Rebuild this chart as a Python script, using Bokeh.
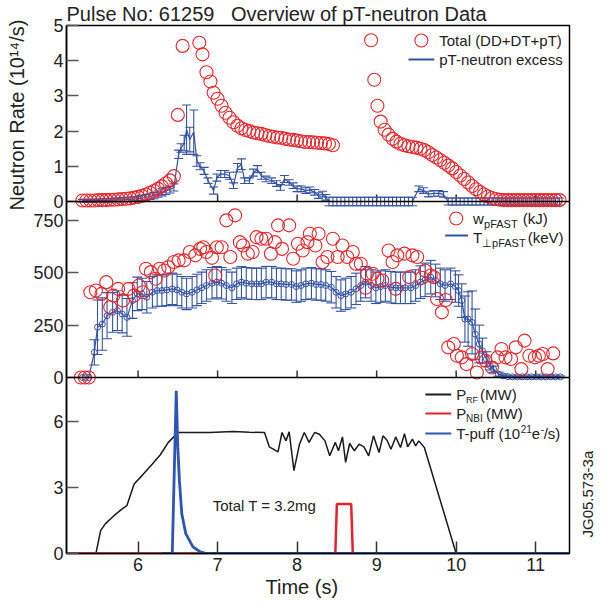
import math
from bokeh.plotting import figure
from bokeh.models import Range1d, FixedTicker, Span, Label, Title, LinearAxis
from bokeh.embed import file_html
from bokeh.resources import INLINE

FONT = "Liberation Sans"
RED = "#e3262b"
BLUE = "#3553a3"
PUFF = "#2d55b5"
TXT = "#222222"

# ---------------- data: panel 1 (neutron rate, 1e14/s) ----------------
total_t = [5.30, 5.35, 5.40, 5.45, 5.50, 5.55, 5.60, 5.65, 5.70, 5.75, 5.80, 5.85,
           5.90, 5.95, 6.00, 6.05, 6.10, 6.15, 6.20, 6.25, 6.30, 6.35, 6.40, 6.45,
           6.50, 6.56, 6.77, 6.81, 6.86, 6.91, 6.95, 7.00, 7.05, 7.10, 7.15, 7.20,
           7.25, 7.30, 7.35, 7.40, 7.45, 7.50, 7.55, 7.60, 7.65, 7.70, 7.75, 7.80,
           7.85, 7.90, 7.95, 8.00, 8.05, 8.10, 8.15, 8.20, 8.25, 8.30, 8.35, 8.40,
           8.45, 8.93, 8.97, 9.01, 9.05, 9.10, 9.15, 9.20, 9.25, 9.30, 9.35, 9.40,
           9.45, 9.50, 9.55, 9.60, 9.65, 9.70, 9.75, 9.80, 9.85, 9.90, 9.95, 10.00,
           10.05, 10.10, 10.15, 10.20, 10.25, 10.30, 10.35, 10.40, 10.45, 10.50,
           10.55, 10.60, 10.65, 10.70, 10.75, 10.80, 10.85, 10.90, 10.95, 11.00,
           11.05, 11.10, 11.15, 11.20, 11.25, 11.30]
total_v = [0.03, 0.03, 0.03, 0.03, 0.04, 0.04, 0.04, 0.05, 0.05, 0.06, 0.07, 0.08,
           0.09, 0.11, 0.13, 0.16, 0.20, 0.25, 0.30, 0.36, 0.43, 0.52, 0.60, 0.72,
           2.46, 4.42, 4.51, 4.18, 3.67, 3.41, 3.09, 2.92, 2.72, 2.52, 2.38, 2.25,
           2.15, 2.08, 2.03, 2.00, 1.96, 1.94, 1.92, 1.89, 1.86, 1.84, 1.82, 1.81,
           1.78, 1.76, 1.75, 1.73, 1.71, 1.69, 1.69, 1.68, 1.67, 1.66, 1.65, 1.63,
           1.60, 4.58, 3.46, 2.72, 2.27, 2.04, 1.90, 1.78, 1.70, 1.64, 1.60, 1.57,
           1.55, 1.53, 1.50, 1.46, 1.40, 1.32, 1.25, 1.18, 1.10, 1.02, 0.94, 0.84,
           0.74, 0.64, 0.54, 0.44, 0.35, 0.27, 0.20, 0.14, 0.10, 0.07,
           0.05, 0.04, 0.04, 0.04, 0.04, 0.04, 0.04, 0.04, 0.04, 0.04,
           0.04, 0.04, 0.04, 0.04, 0.04, 0.04]

excess_t = [5.30, 5.35, 5.40, 5.45, 5.50, 5.55, 5.60, 5.65, 5.70, 5.75, 5.80, 5.85,
            5.90, 5.95, 6.00, 6.05, 6.10, 6.15, 6.20, 6.25, 6.30, 6.35, 6.40, 6.45,
            6.51, 6.54, 6.58, 6.61, 6.65, 6.70, 6.74, 6.78, 6.83, 6.88, 6.95, 6.99,
            7.04, 7.09, 7.15, 7.20, 7.25, 7.30, 7.34, 7.40, 7.45, 7.50, 7.55, 7.61,
            7.68, 7.74, 7.79, 7.84, 7.90, 7.95, 8.00, 8.05, 8.11, 8.16, 8.22, 8.27,
            8.32, 8.36,
            8.40, 8.45, 8.50, 8.55, 8.60, 8.65, 8.70, 8.75, 8.80, 8.85, 8.90, 8.95,
            9.00, 9.05, 9.10, 9.15, 9.20, 9.25, 9.30, 9.35, 9.40, 9.45,
            9.53, 9.59, 9.65, 9.72, 9.78, 9.84,
            9.90, 9.95, 10.00, 10.05, 10.10, 10.15, 10.20, 10.25, 10.30, 10.35,
            10.40, 10.45, 10.50, 10.55, 10.60, 10.65, 10.70, 10.75, 10.80, 10.85,
            10.90, 10.95, 11.00, 11.05, 11.10, 11.15, 11.20, 11.25, 11.30]
excess_v = [0.02, 0.02, 0.02, 0.02, 0.03, 0.03, 0.03, 0.04, 0.04, 0.05, 0.05, 0.06,
            0.06, 0.07, 0.08, 0.10, 0.12, 0.14, 0.17, 0.21, 0.26, 0.30, 0.34, 0.40,
            1.34, 1.52, 1.66, 2.04, 1.76, 1.97, 1.15, 1.00, 0.87, 0.59, 0.31, 0.68,
            0.78, 0.78, 0.73, 0.45, 0.96, 1.06, 0.59, 0.59, 0.82, 0.92, 0.73, 0.64,
            0.59, 0.51, 0.40, 0.64, 0.54, 0.45, 0.36, 0.36, 0.31, 0.33, 0.26, 0.17,
            0.21, 0.12,
            0.0, 0.0, 0.0, 0.0, 0.0, 0.0, 0.0, 0.0, 0.0, 0.0, 0.0, 0.0,
            0.0, 0.0, 0.0, 0.0, 0.0, 0.0, 0.0, 0.0, 0.0, 0.0,
            0.36, 0.31, 0.21, 0.23, 0.23, 0.20,
            0.0, 0.0, 0.0, 0.0, 0.0, 0.0, 0.0, 0.0, 0.0, 0.0,
            0.0, 0.0, 0.0, 0.0, 0.0, 0.0, 0.0, 0.0, 0.0, 0.0,
            0.0, 0.0, 0.0, 0.0, 0.0, 0.0, 0.0, 0.0, 0.0]
excess_err = [0.04, 0.04, 0.04, 0.04, 0.04, 0.05, 0.05, 0.05, 0.05, 0.05, 0.06, 0.06,
              0.06, 0.06, 0.07, 0.07, 0.08, 0.08, 0.09, 0.09, 0.10, 0.10, 0.10, 0.10,
              0.12, 0.12, 0.22, 0.70, 0.35, 0.63, 0.15, 0.10, 0.10, 0.08, 0.10, 0.10,
              0.10, 0.10, 0.10, 0.08, 0.12, 0.15, 0.08, 0.08, 0.10, 0.10, 0.10, 0.08,
              0.08, 0.08, 0.08, 0.10, 0.08, 0.08, 0.08, 0.08, 0.08, 0.08, 0.08, 0.08,
              0.08, 0.08,
              0.12, 0.12, 0.12, 0.12, 0.12, 0.12, 0.12, 0.12, 0.12, 0.12, 0.12, 0.12,
              0.12, 0.12, 0.12, 0.12, 0.12, 0.12, 0.12, 0.12, 0.12, 0.12,
              0.08, 0.08, 0.08, 0.08, 0.08, 0.08,
              0.10, 0.10, 0.10, 0.10, 0.10, 0.10, 0.10, 0.10, 0.10, 0.10,
              0.10, 0.10, 0.10, 0.10, 0.10, 0.10, 0.10, 0.10, 0.10, 0.10,
              0.10, 0.10, 0.10, 0.10, 0.10, 0.10, 0.10, 0.10, 0.10]

# ---------------- data: panel 2 ----------------
w_t = [5.28, 5.33, 5.38, 5.40, 5.47, 5.54, 5.60, 5.65, 5.69, 5.75,
       5.81, 5.88, 5.95, 6.01, 6.06, 6.10, 6.16, 6.22, 6.27, 6.33,
       6.38, 6.45, 6.51, 6.58, 6.65, 6.72, 6.78, 6.82, 6.86, 6.93,
       6.97, 6.99, 7.05, 7.11, 7.16, 7.22, 7.28, 7.32, 7.38, 7.44,
       7.49, 7.55, 7.61, 7.67, 7.72, 7.76, 7.81, 7.90, 7.95, 8.01,
       8.07, 8.13, 8.16, 8.23, 8.27, 8.32, 8.38, 8.45, 8.51, 8.57,
       8.63, 8.70, 8.74, 8.80, 8.86, 8.88, 8.95, 9.01, 9.07, 9.15,
       9.20, 9.24, 9.26, 9.35, 9.41, 9.45, 9.51, 9.57, 9.61, 9.68,
       9.72, 9.76, 9.82, 9.87, 9.90, 9.97, 10.01, 10.07, 10.13, 10.20,
       10.26, 10.32, 10.37, 10.45, 10.52, 10.57, 10.62, 10.69, 10.75, 10.82,
       10.86, 10.92, 10.99, 11.04, 11.09, 11.15, 11.22]
w_v = [0, 0, 0, 407, 415, 399, 455, 335, 391, 423,
       367, 423, 391, 439, 407, 519, 503, 471, 519, 511,
       527, 551, 559, 559, 599, 583, 614, 622, 599, 571,
       487, 622, 622, 750, 575, 774, 646, 630, 591, 599,
       670, 662, 662, 591, 646, 726, 614, 726, 567, 638,
       606, 646, 686, 630, 686, 551, 575, 662, 575, 630,
       575, 599, 543, 543, 428, 495, 495, 471, 463, 606,
       551, 423, 583, 591, 479, 583, 575, 476, 511, 487,
       479, 375, 311, 370, 144, 160, 104, 96, 64, 112,
       24, 96, 80, 48, 96, 136, 96, 88, 144, 40,
       176, 104, 96, 104, 112, 40, 115]

tp_t = [5.30, 5.34, 5.38, 5.45, 5.49, 5.55, 5.61, 5.68, 5.74, 5.80, 5.86, 5.93, 5.99,
        6.05, 6.11, 6.18, 6.24, 6.30, 6.36, 6.43, 6.49, 6.55, 6.61, 6.68, 6.74, 6.80, 6.86, 6.93, 6.99,
        7.05, 7.11, 7.18, 7.24, 7.30, 7.36, 7.43, 7.49, 7.55, 7.61, 7.68, 7.74, 7.80, 7.86, 7.93, 7.99,
        8.05, 8.11, 8.18, 8.24, 8.30, 8.36, 8.43, 8.49, 8.55, 8.61, 8.68, 8.74, 8.80, 8.86, 8.93, 8.99,
        9.05, 9.11, 9.18, 9.24, 9.30, 9.36, 9.43, 9.49, 9.55, 9.61, 9.68, 9.74, 9.80, 9.86, 9.93, 9.99,
        10.03, 10.07, 10.11, 10.15, 10.20, 10.24, 10.29, 10.33, 10.38, 10.43, 10.47, 10.53, 10.59,
        10.65, 10.71, 10.77, 10.83, 10.89, 10.95, 11.01, 11.07, 11.13, 11.19, 11.25, 11.31]
tp_v = [0, 0, 0, 120, 240, 255, 295, 311, 319, 303, 287, 367, 399,
        399, 383, 407, 415, 415, 418, 423, 418, 407, 399, 407, 418, 428, 439, 450, 455,
        450, 439, 428, 447, 455, 450, 447, 447, 447, 455, 455, 447, 447, 444, 444, 434,
        439, 447, 450, 444, 444, 439, 431, 407, 391, 399, 407, 423, 439, 455, 439, 428,
        434, 439, 431, 428, 428, 428, 428, 439, 455, 466, 479, 463, 447, 439, 447, 434,
        415, 367, 279, 279, 263, 207, 160, 128, 88, 56, 40, 16, 8,
        4, 3, 3, 3, 3, 3, 3, 3, 3, 3, 3, 3]
tp_err = [0, 0, 0, 60, 130, 125, 110, 95, 95, 90, 90, 85, 80,
          75, 75, 75, 75, 75, 75, 75, 75, 75, 75, 75, 75, 75, 75, 75, 75,
          75, 75, 75, 75, 75, 75, 75, 75, 75, 75, 75, 75, 75, 75, 75, 75,
          75, 75, 75, 75, 75, 75, 75, 75, 75, 75, 75, 75, 75, 75, 75, 75,
          75, 75, 75, 75, 75, 75, 75, 75, 78, 80, 80, 78, 75, 75, 75, 75,
          75, 80, 110, 130, 150, 120, 90, 60, 35, 20, 15, 10, 8,
          4, 4, 4, 4, 4, 4, 4, 4, 4, 4, 4, 4]

# ---------------- data: panel 3 ----------------
rf_t = [5.10, 5.47, 5.53, 5.59, 5.70, 5.80, 5.86, 5.95, 6.05, 6.18,
        6.28, 6.38, 6.47, 6.49, 6.70, 6.90, 7.05, 7.20, 7.40, 7.59,
        7.65, 7.76, 7.81, 7.86, 7.90, 7.96, 8.03, 8.09, 8.15, 8.22,
        8.28, 8.35, 8.41, 8.48, 8.52, 8.57, 8.61, 8.66, 8.72, 8.78,
        8.84, 8.90, 8.96, 9.03, 9.08, 9.13, 9.18, 9.24, 9.30, 9.35,
        9.39, 9.45, 9.49, 9.53, 9.60, 10.00, 11.42]
rf_v = [0, 0, 1.05, 1.36, 1.73, 2.03, 2.18, 3.16, 3.54, 4.07,
        4.49, 5.05, 5.38, 5.50, 5.50, 5.50, 5.52, 5.54, 5.51, 5.50,
        4.85, 4.62, 5.50, 5.12, 5.53, 3.77, 4.97, 5.50, 5.05, 5.50,
        5.42, 5.12, 4.44, 5.05, 4.67, 5.30, 4.14, 5.00, 4.67, 4.97,
        4.85, 4.44, 5.35, 4.59, 5.35, 5.15, 4.74, 5.30, 4.82, 5.45,
        4.85, 5.20, 4.89, 5.12, 4.82, 0, 0]
nbi_t = [5.10, 8.48, 8.50, 8.68, 8.70, 11.42]
nbi_v = [0, 0, 2.25, 2.25, 0, 0]
puff_t = [6.30, 6.43, 6.48, 6.50, 6.52, 6.55, 6.60, 6.69, 6.78, 6.86, 11.42]
puff_v = [0, 0, 7.40, 4.80, 3.30, 1.80, 0.90, 0.30, 0.08, 0.0, 0.0]

# tick labels
n_ticks = [0, 1, 2, 3, 4, 5]
w_ticks = [0, 250, 500, 750]
p_ticks = [0, 3, 6]
x_ticks = [6, 7, 8, 9, 10, 11]

# ---------------- figure ----------------
X0, X1 = 5.1, 11.425
Y1MAX, Y2MAX, Y3MAX = 5.0, 840.0, 8.0

p = figure(width=607, height=606, output_backend="svg", toolbar_location=None,
           x_range=Range1d(X0, X1), y_range=Range1d(0, 3),
           min_border_left=66, min_border_right=35, min_border_top=25, min_border_bottom=53)
p.extra_y_ranges = {"n": Range1d(-2 * Y1MAX, Y1MAX),
                    "w": Range1d(-Y2MAX, 2 * Y2MAX),
                    "pw": Range1d(0, 3 * Y3MAX)}
p.xgrid.visible = False
p.ygrid.visible = False
p.outline_line_color = "black"
p.outline_line_width = 1.5
p.background_fill_color = "white"
p.border_fill_color = "white"

def tx(px):
    return X0 + (px - 66.0) * (X1 - X0) / 506.0

def ty(py):
    return (553.0 - py) / 176.0

# title above, x label below, y label left (layout panels)
p.title.text = "Pulse No: 61259\u00a0\u00a0\u00a0Overview of pT-neutron Data"
p.title.text_font = FONT
p.title.text_font_size = "20px"
p.title.text_font_style = "normal"
p.title.text_color = TXT
p.title.align = "left"
p.title.standoff = 1
p.title.offset = 0

p.add_layout(Title(text="Time (s)", align="left", offset=199, standoff=1,
                   text_font=FONT, text_font_size="20px", text_font_style="normal",
                   text_color=TXT), "below")
p.add_layout(Title(text="Neutron Rate (10\u00b9\u2074/s)", align="left", offset=343, standoff=5,
                   text_font=FONT, text_font_size="20px", text_font_style="normal",
                   text_color=TXT), "left")

# right-side figure code, drawn as the single label of a right axis
jg_pos = ty(537)
jg = LinearAxis(ticker=FixedTicker(ticks=[jg_pos]),
                major_label_overrides={jg_pos: "JG05.573-3a"},
                major_label_orientation=math.pi / 2,
                major_tick_in=0, major_tick_out=0, minor_tick_in=0, minor_tick_out=0,
                axis_line_color=None, major_label_standoff=18,
                major_label_text_font=FONT, major_label_text_font_size="15px",
                major_label_text_color=TXT)
p.add_layout(jg, "right")

# left axis with panel ticks
pos = []
labels = {}
for v in n_ticks:
    y = 2 + v / Y1MAX
    pos.append(y); labels[y] = str(v)
for v in w_ticks:
    y = 1 + v / Y2MAX
    pos.append(y); labels[y] = str(v)
for v in p_ticks:
    y = v / Y3MAX
    pos.append(y); labels[y] = str(v)
ya = p.yaxis[0]
ya.ticker = FixedTicker(ticks=pos)
ya.major_label_overrides = labels
ya.major_tick_in = 12
ya.major_tick_out = 0
ya.minor_tick_in = 0
ya.minor_tick_out = 0
ya.major_tick_line_color = "#555555"
ya.major_tick_line_width = 1.5
ya.axis_line_color = "black"
ya.axis_line_width = 1.5
ya.major_label_text_font = FONT
ya.major_label_text_font_size = "18px"
ya.major_label_text_color = TXT
ya.major_label_standoff = 3

xa = p.xaxis[0]
xa.ticker = FixedTicker(ticks=x_ticks)
xa.major_tick_in = 12
xa.major_tick_out = 0
xa.minor_tick_in = 0
xa.minor_tick_out = 0
xa.major_tick_line_color = "#333333"
xa.major_tick_line_width = 1.5
xa.axis_line_color = "black"
xa.axis_line_width = 1.5
xa.major_label_text_font = FONT
xa.major_label_text_font_size = "18px"
xa.major_label_text_color = TXT
xa.major_label_standoff = 4

for loc in (1, 2):
    p.add_layout(Span(location=loc, dimension="width", line_color="black", line_width=1.5))

# inward x ticks for upper panels
tick_len = 7 / 176.0
for base in (1, 2):
    p.segment(x0=x_ticks, y0=[base] * len(x_ticks), x1=x_ticks,
              y1=[base + tick_len] * len(x_ticks), line_color="#333333", line_width=1.5)

# ---- panel 1 ----
lo = [v - e for v, e in zip(excess_v, excess_err)]
hi = [v + e for v, e in zip(excess_v, excess_err)]
p.line(excess_t, excess_v, y_range_name="n", line_color=BLUE, line_width=1.2)
p.segment(x0=excess_t, y0=lo, x1=excess_t, y1=hi, y_range_name="n", line_color=BLUE, line_width=1.1)
p.scatter(excess_t, lo, marker="dash", size=9, line_color=BLUE, line_width=1.1, y_range_name="n")
p.scatter(excess_t, hi, marker="dash", size=9, line_color=BLUE, line_width=1.1, y_range_name="n")
p.scatter(total_t, total_v, marker="circle", size=13, fill_color=None, line_color=RED,
          line_width=1.1, y_range_name="n")

# ---- panel 2 ----
lo2 = [v - e for v, e in zip(tp_v, tp_err)]
hi2 = [v + e for v, e in zip(tp_v, tp_err)]
p.segment(x0=tp_t, y0=lo2, x1=tp_t, y1=hi2, y_range_name="w", line_color=BLUE, line_width=1.1)
p.scatter(tp_t, lo2, marker="dash", size=10, line_color=BLUE, line_width=1.1, y_range_name="w")
p.scatter(tp_t, hi2, marker="dash", size=10, line_color=BLUE, line_width=1.1, y_range_name="w")
p.line(tp_t, tp_v, y_range_name="w", line_color=BLUE, line_width=1.2)
p.scatter(tp_t, tp_v, marker="circle", size=6, fill_color=None, line_color=BLUE,
          line_width=1.0, y_range_name="w")
p.scatter(w_t, w_v, marker="circle", size=13, fill_color=None, line_color=RED,
          line_width=1.1, y_range_name="w")

# ---- panel 3 ----
p.line(rf_t, rf_v, y_range_name="pw", line_color="#1a1a1a", line_width=1.5)
p.line(nbi_t, nbi_v, y_range_name="pw", line_color="#e8202a", line_width=2.5)
p.line(puff_t, puff_v, y_range_name="pw", line_color=PUFF, line_width=2.8)

# ---------------- annotations inside the frame ----------------
def lab(text, px, py, size, angle=0.0, align="left", baseline="middle"):
    p.add_layout(Label(x=tx(px), y=ty(py), text=text, text_font=FONT,
                       text_font_size=f"{size}px", angle=angle, text_align=align,
                       text_baseline=baseline, text_color=TXT))

lab("Total T = 3.2mg", 213, 505, 15)

# legend samples
p.scatter([tx(423)], [ty(40)], marker="circle", size=13, fill_color=None, line_color=RED, line_width=1.1)
p.line([tx(410), tx(436)], [ty(59), ty(59)], line_color=BLUE, line_width=2)
lab("Total (DD+DT+pT)", 441, 40, 15)
lab("pT-neutron excess", 441, 59, 15)

p.scatter([tx(458)], [ty(218)], marker="circle", size=13, fill_color=None, line_color=RED, line_width=1.1)
p.line([tx(447), tx(470)], [ty(235), ty(235)], line_color=BLUE, line_width=2)
lab("w", 475, 218, 15)
lab("pFAST", 486, 223, 11)
lab("(kJ)", 525, 218, 15)
lab("T", 475, 237, 15)
lab("\u22a5pFAST", 484, 242, 11)
lab("(keV)", 530, 237, 15)

p.line([tx(427), tx(453)], [ty(394), ty(394)], line_color="#1a1a1a", line_width=2)
p.line([tx(427), tx(453)], [ty(413), ty(413)], line_color="#e8202a", line_width=2)
p.line([tx(427), tx(453)], [ty(433), ty(433)], line_color=PUFF, line_width=2)
lab("P", 458, 394, 15)
lab("RF", 468, 399, 9)
lab("(MW)", 482, 394, 15)
lab("P", 458, 413, 15)
lab("NBI", 468, 418, 10)
lab("(MW)", 488, 413, 15)
lab("T-puff (10", 458, 433, 15)
lab("21", 523, 428, 10)
lab("e", 534, 433, 15)
lab("-", 543, 428, 10)
lab("/s)", 546, 433, 15)

open("out.html", "w").write(file_html(p, INLINE))
